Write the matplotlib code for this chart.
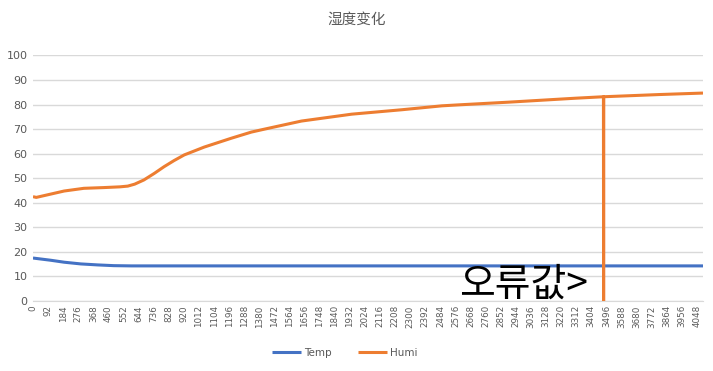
import matplotlib
matplotlib.use("Agg")
import matplotlib.pyplot as plt

# ---- data ----
humi_idx = [0, 20, 92, 190, 310, 432, 530, 578, 620, 676, 740, 799, 860, 922,
            1044, 1209, 1331, 1411, 1637, 1943, 2248, 2493, 2597, 2902, 3307,
            3478, 3479, 3480, 3820, 4085]
humi_val = [42.5, 42.2, 43.3, 44.8, 45.9, 46.2, 46.5, 46.8, 47.6, 49.3, 52.0,
            54.7, 57.2, 59.5, 62.7, 66.3, 68.8, 70.0, 73.3, 76.1, 77.9, 79.5,
            79.9, 81.0, 82.6, 83.2, 0.0, 83.2, 84.1, 84.7]
temp_idx = [0, 108, 190, 292, 394, 492, 600, 4085]
temp_val = [17.5, 16.6, 15.8, 15.1, 14.7, 14.4, 14.3, 14.3]

x_ticks = list(range(0, 4049, 92))
y_ticks = list(range(0, 101, 10))
title = "湿度变化"
note = "오류값>"
series_names = ["Temp", "Humi"]

W, H = 713, 371
fig = plt.figure(figsize=(W / 100, H / 100), dpi=100)
ax = fig.add_axes([33 / W, (H - 301) / H, (703 - 33) / W, (301 - 55.5) / H])

grey = "#595959"
ax.plot(temp_idx, temp_val, color="#4472C4", lw=2.2, label=series_names[0],
        solid_capstyle="butt", zorder=3)
ax.plot(humi_idx, humi_val, color="#ED7D31", lw=2.2, label=series_names[1],
        solid_capstyle="butt", zorder=3)

ax.set_xlim(0, 4085)
ax.set_ylim(0, 100)
ax.set_yticks(y_ticks)
ax.set_xticks(x_ticks)
ax.set_xticklabels([str(t) for t in x_ticks], rotation=90, fontsize=6.3,
                   color=grey, family="DejaVu Sans")
ax.set_yticklabels([str(t) for t in y_ticks], fontsize=8, color=grey)
ax.tick_params(axis="both", length=0, pad=4)
ax.tick_params(axis="x", pad=3)
ax.grid(axis="y", color="#D9D9D9", lw=1)
ax.set_axisbelow(True)
for s in ["top", "right", "left"]:
    ax.spines[s].set_visible(False)
ax.spines["bottom"].set_color("#D9D9D9")

fig.text(0.5, (H - 20) / H, title, ha="center", va="center", fontsize=10.5,
         color=grey, family=["Noto Sans CJK SC", "DejaVu Sans"])

ax.text(2990, 2.0, note, ha="center", va="baseline", fontsize=28, color="black",
        family=["Noto Sans CJK KR", "DejaVu Sans"], zorder=4)

leg = fig.legend(loc="center", bbox_to_anchor=(345 / W, (H - 353) / H), ncol=2,
                 frameon=False, fontsize=7.5, handlelength=2.8, columnspacing=2.5,
                 handletextpad=0.3)
for t in leg.get_texts():
    t.set_color(grey)

fig.savefig("out.png", dpi=100)
